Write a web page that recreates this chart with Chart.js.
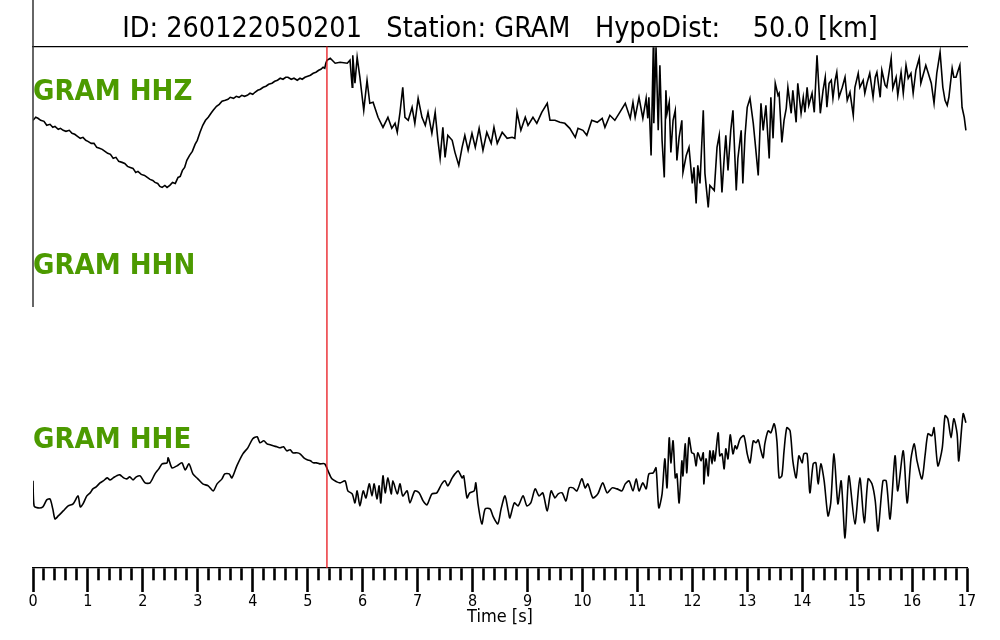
<!DOCTYPE html>
<html>
<head>
<meta charset="utf-8">
<title>GRAM waveforms</title>
<script src="https://cdn.jsdelivr.net/npm/chart.js@4.4.1/dist/chart.umd.min.js"></script>
<style>
  html, body { margin: 0; padding: 0; background: #fff; }
  #wrap { width: 1000px; height: 640px; position: relative; }
</style>
</head>
<body>
<div id="wrap"><canvas id="seismo"></canvas></div>
<script>
// event / station info
const eventId = '260122050201';
const stationCode = 'GRAM';
const hypoDistKm = 50.0;
const channels = ['HHZ', 'HHN', 'HHE'];
const pickTime = 5.35; // P pick [s]

const timeTickLabels = ['0','1','2','3','4','5','6','7','8','9','10','11','12','13','14','15','16','17'];

// HHZ trace (time [s], relative counts)
const hhzTime = [
  0.00,0.05,0.09,0.14,0.20,0.25,0.31,0.36,0.40,0.46,0.50,0.55,0.60,0.66,0.71,0.76,0.81,0.86,0.91,0.96,
  1.00,1.06,1.11,1.16,1.21,1.26,1.31,1.36,1.41,1.46,1.51,1.56,1.62,1.67,1.72,1.77,1.82,1.87,1.91,1.97,
  2.03,2.08,2.13,2.18,2.22,2.27,2.31,2.35,2.40,2.44,2.49,2.54,2.59,2.64,2.68,2.72,2.76,2.80,2.85,2.90,
  2.95,2.99,3.04,3.09,3.14,3.19,3.24,3.28,3.34,3.39,3.44,3.50,3.55,3.59,3.65,3.70,3.75,3.80,3.85,3.90,
  3.95,4.00,4.04,4.09,4.14,4.19,4.24,4.29,4.35,4.40,4.45,4.50,4.55,4.60,4.64,4.70,4.75,4.81,4.86,4.90,
  4.95,5.00,5.05,5.10,5.15,5.20,5.24,5.28,5.31,5.33,
  5.35,5.41,5.50,5.59,5.72,5.77,5.81,5.82,5.86,5.90,5.95,6.02,6.08,6.13,6.19,6.28,6.37,6.46,6.53,6.59,
  6.63,6.68,6.73,6.77,6.83,6.90,6.95,7.01,7.08,7.14,7.19,7.26,7.32,7.37,7.41,7.46,7.50,7.55,7.63,7.68,
  7.75,7.81,7.86,7.92,7.99,8.05,8.12,8.19,8.26,8.34,8.39,8.45,8.54,8.63,8.72,8.77,8.81,8.88,8.96,9.01,
  9.10,9.17,9.26,9.36,9.41,9.50,9.59,9.68,9.77,9.87,9.92,10.01,10.08,10.17,10.27,10.36,10.41,10.50,10.59,10.68,
  10.78,10.87,10.92,10.96,11.03,11.10,11.16,11.19,11.21,11.25,11.29,11.30,11.34,11.38,11.41,11.45,11.49,11.52,11.54,11.58,
  11.61,11.65,11.69,11.72,11.76,11.81,11.83,11.89,11.94,12.00,12.03,12.07,12.10,12.14,12.20,12.23,12.29,12.32,12.40,12.45,
  12.49,12.54,12.58,12.61,12.65,12.70,12.74,12.80,12.83,12.89,12.92,12.96,13.00,13.05,13.11,13.14,13.20,13.25,13.29,13.34,
  13.40,13.43,13.47,13.51,13.56,13.58,13.63,13.67,13.71,13.74,13.80,13.83,13.89,13.92,13.98,14.02,14.05,14.09,14.12,14.18,
  14.22,14.27,14.33,14.38,14.42,14.45,14.49,14.53,14.56,14.60,14.63,14.67,14.73,14.78,14.82,14.87,14.93,14.96,15.02,15.05,
  15.11,15.14,15.18,15.23,15.29,15.33,15.36,15.42,15.45,15.51,15.54,15.62,15.65,15.71,15.74,15.80,15.84,15.89,15.93,15.98,
  16.02,16.07,16.13,16.16,16.20,16.25,16.29,16.35,16.40,16.45,16.51,16.56,16.60,16.64,16.67,16.73,16.76,16.80,16.84,16.87,
  16.91,16.95,16.98
];
const hhzCounts = [
  0,3,2,0,-1,-5,-4,-7,-6,-9,-8,-10,-11,-10,-13,-14,-16,-18,-17,-20,
  -21,-23,-23,-27,-28,-29,-31,-33,-34,-38,-37,-41,-42,-43,-46,-47,-48,-52,-51,-54,
  -55,-57,-59,-60,-62,-63,-66,-67,-65,-67,-65,-62,-63,-57,-56,-50,-47,-40,-35,-31,
  -24,-20,-12,-5,0,3,7,10,14,16,19,20,21,23,22,24,23,25,24,25,
  27,26,28,30,31,33,34,36,37,39,40,42,41,43,43,41,42,40,42,41,
  43,44,45,47,48,50,51,53,52,57,
  60,62,57,58,57,60,33,65,37,63,43,10,40,17,18,3,-7,3,-8,-3,
  -12,8,33,3,0,13,-3,22,3,-5,8,-13,8,-20,-38,-7,-37,-15,-20,-32,
  -45,-27,-15,-30,-13,-27,-8,-30,-12,-23,-7,-23,-12,-18,-17,-18,8,-10,3,-5,
  3,-3,8,17,0,0,-2,-3,-8,-17,-8,-10,-15,0,-2,2,-7,5,0,8,
  17,2,18,3,23,2,22,2,23,-35,73,-3,73,-10,55,-20,-57,30,7,18,
  -32,0,10,-40,-17,0,-52,-35,-27,-63,-47,-83,-45,-63,10,-53,-87,-65,-70,-27,
  -15,-72,-38,-15,-50,-10,10,-70,-38,-10,-63,-15,13,22,-3,-20,-55,17,-10,15,
  -38,23,-18,37,25,27,-22,0,12,33,7,30,-2,37,7,23,8,33,15,27,
  8,65,7,30,43,13,37,40,22,40,48,23,33,43,20,28,5,33,47,33,
  40,27,37,47,23,43,48,23,50,35,33,62,32,43,25,48,27,55,42,47,
  27,50,62,37,45,55,48,37,17,47,68,33,20,15,23,52,43,43,50,55,
  13,3,-10
];

// HHN: no samples in this window
const hhnTime = [];
const hhnCounts = [];

// HHE trace
const hheTime = [
  0.00,0.02,0.09,0.18,0.25,0.31,0.36,0.40,0.46,0.55,0.64,0.73,0.82,0.86,0.91,0.98,1.04,1.09,1.15,1.22,
  1.28,1.35,1.40,1.46,1.52,1.58,1.65,1.71,1.76,1.82,1.88,1.95,2.04,2.13,2.22,2.29,2.35,2.44,2.46,2.53,
  2.62,2.71,2.77,2.84,2.91,3.00,3.09,3.19,3.28,3.35,3.44,3.49,3.57,3.62,3.71,3.82,3.91,4.00,4.08,4.13,
  4.20,4.26,4.32,4.37,4.44,4.50,4.56,4.62,4.68,4.73,4.80,4.86,4.93,4.99,5.05,5.10,5.16,5.22,5.31,5.37,
  5.44,5.53,5.59,5.68,5.73,5.81,5.86,5.90,5.95,6.01,6.06,6.12,6.17,6.21,6.26,6.30,6.33,6.37,6.41,6.46,
  6.52,6.55,6.63,6.68,6.73,6.81,6.86,6.95,7.03,7.10,7.17,7.26,7.35,7.44,7.50,7.55,7.63,7.68,7.74,7.81,
  7.84,7.90,7.95,8.03,8.06,8.10,8.17,8.23,8.32,8.37,8.46,8.52,8.59,8.65,8.68,8.76,8.83,8.92,8.99,9.06,
  9.14,9.21,9.28,9.36,9.43,9.50,9.56,9.63,9.70,9.76,9.83,9.90,9.99,10.05,10.10,10.19,10.28,10.37,10.45,10.54,
  10.63,10.72,10.78,10.85,10.92,10.98,11.03,11.10,11.16,11.21,11.29,11.34,11.39,11.45,11.50,11.54,11.58,11.61,11.65,11.69,
  11.72,11.76,11.81,11.83,11.87,11.90,11.94,11.99,12.03,12.07,12.10,12.16,12.20,12.21,12.25,12.29,12.32,12.36,12.38,12.41,
  12.47,12.50,12.54,12.58,12.61,12.65,12.69,12.74,12.78,12.81,12.87,12.94,13.00,13.05,13.11,13.16,13.20,13.25,13.29,13.32,
  13.38,13.43,13.49,13.54,13.58,13.63,13.67,13.72,13.78,13.83,13.89,13.94,14.00,14.03,14.09,14.14,14.20,14.25,14.29,14.34,
  14.40,14.47,14.52,14.58,14.65,14.71,14.78,14.85,14.96,15.05,15.13,15.20,15.27,15.33,15.38,15.47,15.53,15.60,15.69,15.74,
  15.84,15.91,15.98,16.04,16.09,16.18,16.24,16.29,16.36,16.40,16.47,16.55,16.60,16.65,16.71,16.76,16.82,16.85,16.93,16.98
];
const hheCounts = [
  10,-15,-17,-16,-9,-8,-18,-28,-25,-20,-15,-13,-5,-16,-13,-5,-2,2,4,8,
  10,13,11,13,15,16,13,12,14,11,14,15,8,8,17,22,27,28,33,23,
  25,28,21,27,17,12,7,5,0,7,12,17,17,13,25,37,43,52,54,48,
  50,47,46,45,44,43,44,40,41,38,38,37,33,31,30,28,28,27,27,20,
  12,9,8,10,0,-3,-12,0,-15,0,-7,7,-5,7,-8,5,-12,15,-2,13,
  -3,10,-3,7,-5,0,-12,0,-2,-10,-14,-3,-2,7,10,5,13,17,20,13,
  15,-7,-2,0,8,-13,-33,-18,-18,-25,-33,-18,-5,-20,-27,-12,-15,-5,-15,-12,
  2,-5,-2,-20,0,-7,-3,-2,-10,3,3,0,12,3,7,-7,-3,8,-2,3,
  2,0,7,10,0,12,0,8,2,17,18,23,-17,-3,32,3,53,28,50,13,
  17,-12,30,15,47,18,53,38,37,25,38,30,38,7,32,15,40,27,40,30,
  58,35,37,22,42,32,56,37,45,42,52,55,37,28,50,48,51,40,33,47,
  60,58,67,50,13,15,40,63,60,30,13,35,28,37,37,-2,27,28,7,27,
  10,-25,-12,37,-13,10,-47,15,-33,13,-32,12,7,-10,-40,10,10,-28,35,0,
  40,-12,32,47,30,12,37,57,55,63,25,43,75,72,53,72,57,30,77,68
];

function toPoints(times, counts) {
  return times.map((t, i) => ({ x: t, y: counts[i] }));
}

const condensed = "'DejaVu Sans Condensed', 'DejaVu Sans', sans-serif";

// left spine of the top panel + channel names
const panelDecor = {
  id: 'panelDecor',
  afterDraw(chart) {
    const ctx = chart.ctx;
    const area = chart.chartArea;
    const panelH = (area.bottom - area.top) / channels.length;
    ctx.save();
    ctx.strokeStyle = '#333';
    ctx.lineWidth = 1.5;
    ctx.beginPath();
    ctx.moveTo(area.left, 0);
    ctx.lineTo(area.left, area.top + panelH * 1.5);
    ctx.stroke();

    ctx.fillStyle = '#4c9a00';
    ctx.font = "bold 29px " + condensed;
    ctx.textAlign = 'left';
    ctx.textBaseline = 'middle';
    channels.forEach((ch, i) => {
      ctx.fillText(stationCode + ' ' + ch, area.left, area.top + 46 + i * panelH);
    });
    ctx.restore();
  }
};

const isWhole = v => Math.abs(v - Math.round(v)) < 1e-6;

const ctx = document.getElementById('seismo').getContext('2d');
new Chart(ctx, {
  type: 'line',
  data: {
    datasets: [
      {
        label: 'pick',
        data: [{ x: pickTime, y: 0 }, { x: pickTime, y: 1 }],
        yAxisID: 'yPick',
        borderColor: '#e8141a',
        borderWidth: 1.3,
        pointRadius: 0
      },
      {
        label: channels[0],
        data: toPoints(hhzTime, hhzCounts),
        yAxisID: 'yZ',
        borderColor: '#000',
        borderWidth: 1.6,
        pointRadius: 0
      },
      {
        label: channels[1],
        data: toPoints(hhnTime, hhnCounts),
        yAxisID: 'yN',
        borderColor: '#000',
        borderWidth: 1.6,
        pointRadius: 0
      },
      {
        label: channels[2],
        data: toPoints(hheTime, hheCounts),
        yAxisID: 'yE',
        borderColor: '#000',
        borderWidth: 1.6,
        pointRadius: 0,
        tension: 0.25
      }
    ]
  },
  options: {
    responsive: true,
    maintainAspectRatio: false,
    devicePixelRatio: 1,
    animation: false,
    events: [],
    layout: { padding: { left: 33, right: 33, top: 0, bottom: 14 } },
    plugins: {
      legend: { display: false },
      tooltip: { enabled: false },
      title: {
        display: true,
        text: 'ID: ' + eventId + '   Station: ' + stationCode + '   HypoDist:    ' + hypoDistKm.toFixed(1) + ' [km]',
        color: '#000',
        font: { family: condensed, size: 28.5, weight: 'normal', lineHeight: 1.2 },
        padding: { top: 12, bottom: 0 }
      }
    },
    scales: {
      x: {
        type: 'linear',
        position: 'bottom',
        min: 0,
        max: 17,
        border: { display: true, color: '#000', width: 1.3 },
        grid: {
          drawOnChartArea: false,
          drawTicks: true,
          tickLength: 24,
          tickWidth: 2.6,
          tickColor: '#000',
          tickBorderDash: c => (c.tick && isWhole(c.tick.value)) ? [] : [12, 60]
        },
        ticks: {
          stepSize: 0.2,
          autoSkip: false,
          maxRotation: 0,
          padding: 2,
          color: '#000',
          font: { family: condensed, size: 16, lineHeight: 1.0 },
          callback: v => isWhole(v) ? timeTickLabels[Math.round(v)] : ''
        },
        title: {
          display: true,
          text: 'Time [s]',
          color: '#000',
          font: { family: condensed, size: 18, lineHeight: 1.0 },
          padding: { top: -4, bottom: 0 }
        }
      },
      xTop: {
        type: 'linear',
        position: 'top',
        min: 0,
        max: 17,
        border: { display: true, color: '#000', width: 1.3 },
        grid: { drawOnChartArea: false, drawTicks: false },
        ticks: { display: false }
      },
      yZ: { display: false, min: -447, max: 74 },
      yN: { display: false, min: -100, max: 100 },
      yE: { display: false, min: -77, max: 444 },
      yPick: { display: false, min: 0, max: 1 }
    }
  },
  plugins: [panelDecor]
});
</script>
</body>
</html>
